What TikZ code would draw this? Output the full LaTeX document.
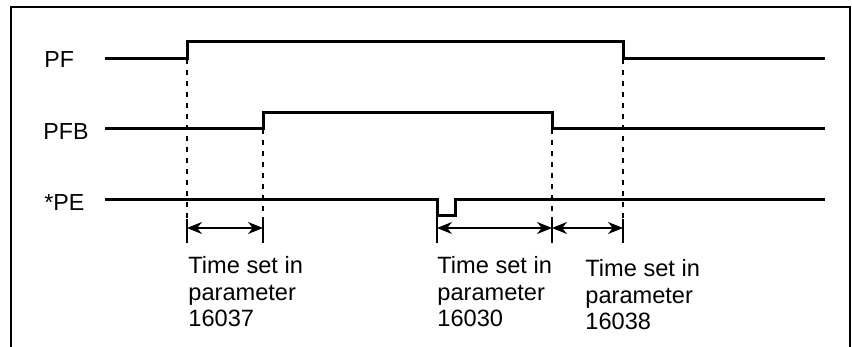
\documentclass[tikz,border=0pt]{standalone}
\usepackage{fontspec}
\setmainfont{Liberation Sans}
\usetikzlibrary{arrows.meta}
\begin{document}
\begin{tikzpicture}[x=0.5pt,y=-0.5pt,
  frame/.style={line width=1.2pt},
  signal/.style={line width=1.5pt, line join=miter},
  guide/.style={line width=0.6pt, dash pattern=on 2.5pt off 3pt},
  tick/.style={line width=0.6pt},
  span/.style={line width=0.6pt, {Stealth[length=7.5pt,width=6pt,inset=2.4pt]}-{Stealth[length=7.5pt,width=6pt,inset=2.4pt]}},
  lbl/.style={font=\fontsize{11.6}{13.25}\selectfont, inner sep=0pt, anchor=base west},
  note/.style={font=\fontsize{11.8}{13.25}\selectfont, inner sep=0pt, anchor=base west, align=left},
]
\useasboundingbox (0,0) rectangle (852,347);
% frame (open at the bottom)
\draw[frame] (11,347) -- (11,7) -- (850,7) -- (850,347);

% signal labels
\node[lbl] (lpf)  at (44,68)  {PF};
\node[lbl] (lpfb) at (43,140) {PFB};
\node[lbl] (lpe)  at (44,211) {*PE};

% key points
\coordinate (pfs)  at (105,59);
\coordinate (pfa)  at (187,59);
\coordinate (pfb)  at (187,42);
\coordinate (pfc)  at (623,42);
\coordinate (pfd)  at (623,59);
\coordinate (pfe)  at (825,59);

\coordinate (bs)   at (105,129);
\coordinate (ba)   at (263,129);
\coordinate (bb)   at (263,113);
\coordinate (bc)   at (552,113);
\coordinate (bd)   at (552,129);
\coordinate (be)   at (825,129);

\coordinate (es)   at (105,200);
\coordinate (ea)   at (437,200);
\coordinate (eb)   at (437,216);
\coordinate (ec)   at (455,216);
\coordinate (ed)   at (455,200);
\coordinate (ee)   at (825,200);

% waveforms
\draw[signal] (pfs) -- (pfa) -- (pfb) -- (pfc) -- (pfd) -- (pfe);
\draw[signal] (bs) -- (ba) -- (bb) -- (bc) -- (bd) -- (be);
\draw[signal] (es) -- (ea) -- (eb) -- (ec) -- (ed) -- (ee);

% guide ends and tick ends
\coordinate (g1) at (187,219); \coordinate (t1) at (187,243);
\coordinate (g2) at (263,219); \coordinate (t2) at (263,243);
\coordinate (g3) at (552,219); \coordinate (t3) at (552,243);
\coordinate (g4) at (623,219); \coordinate (t4) at (623,243);
\coordinate (t0) at (437,243);

\draw[guide] (pfa) -- (g1);
\draw[guide] (ba) -- (g2);
\draw[guide] (bd) -- (g3);
\draw[guide] (pfd) -- (g4);

\draw[tick] (g1) -- (t1);
\draw[tick] (g2) -- (t2);
\draw[tick] (g3) -- (t3);
\draw[tick] (g4) -- (t4);
\draw[tick] (eb) -- (t0);

% spans
\coordinate (a1) at (187,228); \coordinate (a2) at (263,228);
\coordinate (a3) at (437,228); \coordinate (a4) at (552,228);
\coordinate (a5) at (623,228);
\draw[span] (a1) -- (a2);
\draw[span] (a3) -- (a4);
\draw[span] (a4) -- (a5);

% notes (base anchor = baseline of the last line)
\node[note] (n1) at (188,327) {Time set in\\parameter\\16037};
\node[note] (n2) at (437,327) {Time set in\\parameter\\16030};
\node[note] (n3) at (585,330) {Time set in\\parameter\\16038};
\end{tikzpicture}
\end{document}
